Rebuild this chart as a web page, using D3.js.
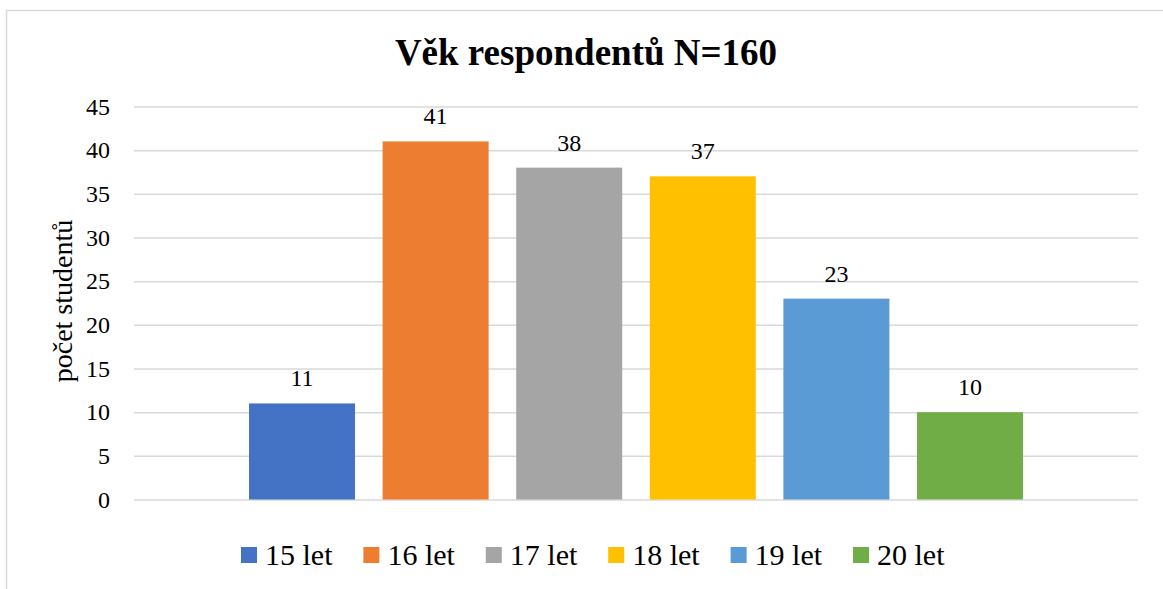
<!DOCTYPE html>
<html>
<head>
<meta charset="utf-8">
<script src="https://cdn.jsdelivr.net/npm/d3@7"></script>
<style>
  body { margin: 0; background: #fff; }
</style>
</head>
<body>
<div id="chart"></div>
<script>
// data
const categories = ["15 let", "16 let", "17 let", "18 let", "19 let", "20 let"];
const values = [11, 41, 38, 37, 23, 10];
const colors = ["#4472C4", "#ED7D31", "#A5A5A5", "#FFC000", "#5B9BD5", "#70AD47"];
const yTicks = [0, 5, 10, 15, 20, 25, 30, 35, 40, 45];
const title = "Věk respondentů N=160";
const yTitle = "počet studentů";

const FONT = "'Liberation Serif', 'Times New Roman', serif";
const width = 1163, height = 589;
const plot = { left: 134, right: 1138, top: 106.5, bottom: 499.5 };

const svg = d3.select("#chart").append("svg")
    .attr("width", width)
    .attr("height", height)
    .style("font-family", FONT);

// chart border (runs off right and bottom)
svg.append("rect")
    .attr("x", 6.5).attr("y", 10.5)
    .attr("width", 1200).attr("height", 600)
    .attr("fill", "none")
    .attr("stroke", "#d9d9d9")
    .attr("stroke-width", 1.5);

const x = d3.scaleBand()
    .domain(categories)
    .range([plot.left, plot.right])
    .paddingInner(0.2066)
    .paddingOuter(0.861);

const y = d3.scaleLinear()
    .domain([0, 45])
    .range([plot.bottom, plot.top]);

// gridlines + tick labels
const yAxis = svg.append("g")
    .attr("transform", "translate(" + plot.left + ",0)")
    .call(d3.axisLeft(y).tickValues(yTicks).tickSize(-(plot.right - plot.left)).tickPadding(24));
yAxis.attr("font-family", null).attr("font-size", null);
yAxis.select(".domain").remove();
yAxis.selectAll(".tick line").attr("stroke", "#d9d9d9").attr("stroke-width", 1.5);
yAxis.selectAll(".tick text")
    .style("font-family", FONT)
    .style("font-size", "24px")
    .attr("fill", "#000");

// bars
svg.append("g").selectAll("rect")
    .data(values)
    .join("rect")
    .attr("x", (d, i) => x(categories[i]))
    .attr("y", d => y(d))
    .attr("width", x.bandwidth())
    .attr("height", d => y(0) - y(d))
    .attr("fill", (d, i) => colors[i]);

// data labels
svg.append("g").selectAll("text")
    .data(values)
    .join("text")
    .attr("x", (d, i) => x(categories[i]) + x.bandwidth() / 2)
    .attr("y", d => y(d) - 17)
    .attr("text-anchor", "middle")
    .style("font-family", FONT)
    .style("font-size", "24px")
    .text(d => d);

// title
svg.append("text")
    .attr("x", 586)
    .attr("y", 65)
    .attr("text-anchor", "middle")
    .style("font-family", FONT)
    .style("font-size", "37px")
    .style("font-weight", "bold")
    .text(title);

// y axis title
svg.append("text")
    .attr("transform", "translate(72,301) rotate(-90)")
    .attr("text-anchor", "middle")
    .style("font-family", FONT)
    .style("font-size", "28px")
    .text(yTitle);

// legend
const legend = svg.append("g").selectAll("g")
    .data(categories)
    .join("g")
    .attr("transform", (d, i) => "translate(" + (241 + i * 122.4) + ",547)");
legend.append("rect")
    .attr("width", 16).attr("height", 16)
    .attr("fill", (d, i) => colors[i]);
legend.append("text")
    .attr("x", 24)
    .attr("y", 18)
    .style("font-family", FONT)
    .style("font-size", "30px")
    .text(d => d);
</script>
</body>
</html>
